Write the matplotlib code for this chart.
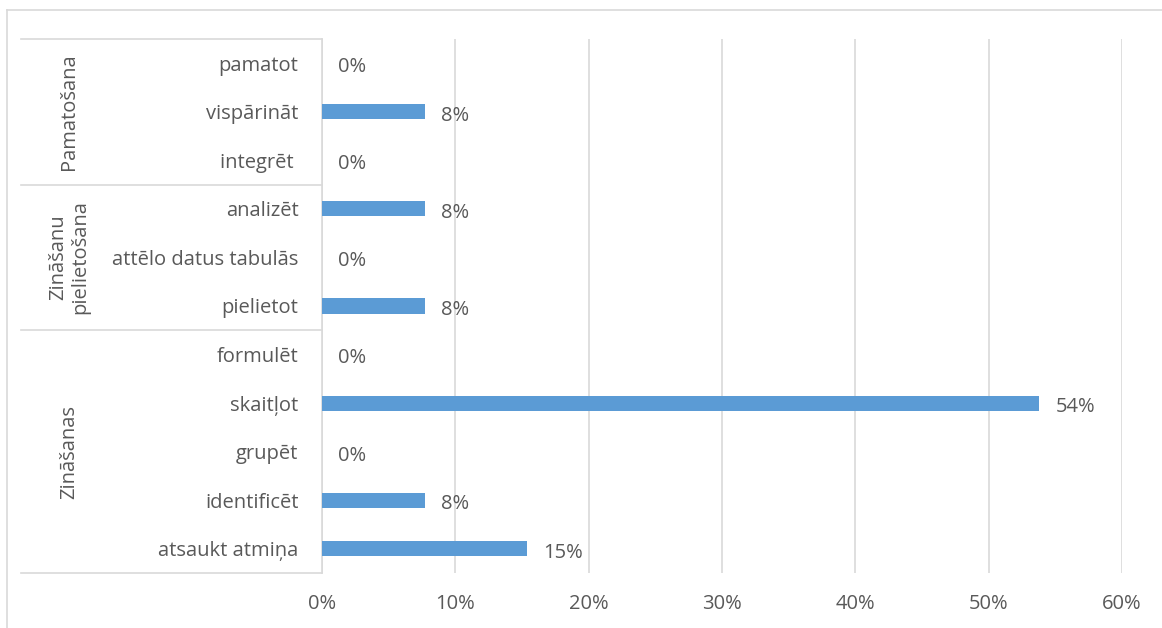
import matplotlib
matplotlib.use("Agg")
import matplotlib.pyplot as plt
from matplotlib.lines import Line2D

# dati (no apakšas uz augšu)
categories = ["atsaukt atmiņa", "identificēt", "grupēt", "skaitļot", "formulēt",
              "pielietot", "attēlo datus tabulās", "analizēt",
              "integrēt ", "vispārināt", "pamatot"]
values = [15.4, 7.7, 0, 53.8, 0, 7.7, 0, 7.7, 0, 7.7, 0]
groups = ["Zināšanas", "Zināšanu\npielietošana", "Pamatošana"]
group_sizes = [5, 3, 3]
xticks = [0, 10, 20, 30, 40, 50, 60]

W, H = 1162, 628
bar_color = "#5B9BD5"
text_color = "#595959"
grid_color = "#D9D9D9"
fs = 14.5
plt.rcParams["font.family"] = ["Open Sans", "DejaVu Sans"]

fig = plt.figure(figsize=(W / 100, H / 100), dpi=100)
ax = fig.add_axes([322 / W, 1 - 573 / H, 800 / W, 534 / H])

y = list(range(len(categories)))
ax.barh(y, values, height=0.31, color=bar_color, zorder=3)
for yi, v in zip(y, values):
    ax.text(v + 1.2, yi - 0.08, f"{round(v)}%", va="center", ha="left",
            fontsize=fs, color=text_color)

ax.set_xlim(0, 60)
ax.set_ylim(-0.5, len(categories) - 0.5)
ax.set_xticks(xticks)
ax.set_xticklabels([f"{t}%" for t in xticks], fontsize=fs, color=text_color)
ax.set_yticks(y)
ax.set_yticklabels(categories, fontsize=fs, color=text_color)
ax.tick_params(axis="both", length=0)
ax.tick_params(axis="y", pad=17)
ax.tick_params(axis="x", pad=15)
ax.grid(axis="x", color=grid_color, linewidth=1.2, zorder=0)
for s in ["top", "right", "bottom"]:
    ax.spines[s].set_visible(False)
ax.spines["left"].set_color(grid_color)
ax.spines["left"].set_linewidth(1.2)

# grupu atdalītāji un nosaukumi
tr = ax.get_yaxis_transform()
x_left = (21 - 322) / 800
start = -0.5
bounds = [start]
for g, n in zip(groups, group_sizes):
    end = start + n
    ax.text((69 - 322) / 800, (start + end) / 2, g, rotation=90, ha="center",
            va="center", fontsize=fs, color=text_color, transform=tr,
            linespacing=1.15)
    bounds.append(end)
    start = end
for b in bounds:
    ax.add_line(Line2D([x_left, 0], [b, b], transform=tr, color=grid_color,
                       linewidth=1.2, clip_on=False))

# diagrammas rāmis
fig.add_artist(Line2D([7 / W, 7 / W], [0, 1 - 10 / H], transform=fig.transFigure,
                      color=grid_color, linewidth=1.2))
fig.add_artist(Line2D([7 / W, 1], [1 - 10 / H, 1 - 10 / H], transform=fig.transFigure,
                      color=grid_color, linewidth=1.2))

fig.savefig("out.png", dpi=100)
